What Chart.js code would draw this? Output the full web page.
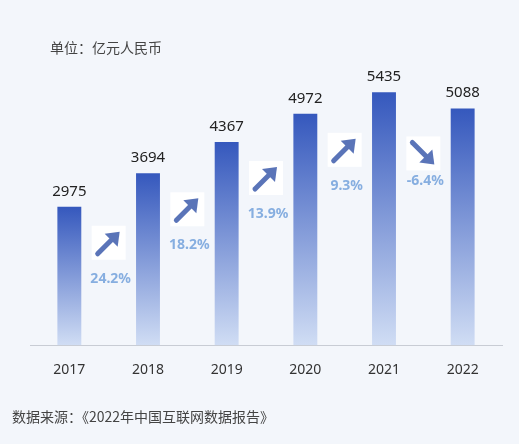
<!DOCTYPE html>
<html>
<head>
<meta charset="utf-8">
<script src="https://cdn.jsdelivr.net/npm/chart.js@4"></script>
<style>
body { margin: 0; background: #f3f6fb; font-family: "Noto Sans CJK SC", "Noto Sans", sans-serif; }
#wrap { position: relative; width: 519px; height: 444px; }
#unit { position: absolute; left: 50px; top: 37px; font-size: 14px; color: #444; }
#src { position: absolute; left: 12px; top: 406px; font-size: 14px; color: #444; }
</style>
</head>
<body>
<div id="wrap">
<canvas id="c" width="519" height="444"></canvas>
<div id="unit">单位：亿元人民币</div>
<div id="src">数据来源：《2022年中国互联网数据报告》</div>
</div>
<script>
const years = ["2017", "2018", "2019", "2020", "2021", "2022"];
const revenue = [2975, 3694, 4367, 4972, 5435, 5088];
const growth = ["24.2%", "18.2%", "13.9%", "9.3%", "-6.4%"];

const ctx = document.querySelector("#c");

const arrows = {
	id: "arrows",
	afterDatasetsDraw(chart) {
		const c = chart.ctx, xs = chart.scales.x, ys = chart.scales.y;
		c.save();
		growth.forEach((g, i) => {
			const x = (xs.getPixelForValue(i) + xs.getPixelForValue(i + 1)) / 2;
			const down = g.startsWith("-");
			let ay, ly;
			if (down) {
				ay = ys.getPixelForValue(revenue[i + 1]) + 45;
				ly = ay + 28;
			} else {
				ay = ys.getPixelForValue(revenue[i]) + 36;
				ly = ay + 36;
			}
			c.fillStyle = "#ffffff";
			c.fillRect(x - 17, ay - 17, 34, 34);
			c.fillStyle = "#5a74b8";
			c.strokeStyle = "#5a74b8";
			c.lineWidth = 5;
			c.lineCap = "round";
			c.beginPath();
			if (!down) {
				c.moveTo(x - 11, ay + 11);
				c.quadraticCurveTo(x - 2, ay + 2, x + 4, ay - 4);
				c.stroke();
				c.beginPath();
				c.moveTo(x + 11, ay - 11);
				c.lineTo(x + 9, ay + 4);
				c.lineTo(x - 4, ay - 9);
			} else {
				c.moveTo(x - 11, ay - 11);
				c.quadraticCurveTo(x - 2, ay - 2, x + 4, ay + 4);
				c.stroke();
				c.beginPath();
				c.moveTo(x + 11, ay + 11);
				c.lineTo(x + 9, ay - 4);
				c.lineTo(x - 4, ay + 9);
			}
			c.closePath();
			c.fill();
			c.fillStyle = "#86aee0";
			c.font = "bold 14px 'Noto Sans', sans-serif";
			c.textAlign = "center";
			c.textBaseline = "middle";
			c.fillText(g, x + 2, ly);
		});
		c.fillStyle = "#222";
		c.font = "15px 'Noto Sans', sans-serif";
		c.textBaseline = "bottom";
		c.textAlign = "center";
		revenue.forEach((v, i) => {
			c.fillText(v, xs.getPixelForValue(i), ys.getPixelForValue(v) - 8);
		});
		c.restore();
	}
};

new Chart(ctx, {
	type: "bar",
	data: {
		labels: years,
		datasets: [{
			data: revenue,
			backgroundColor: function (context) {
				const chart = context.chart;
				const area = chart.chartArea;
				if (!area || !chart.scales.y) return "#4466c4";
				const top = chart.scales.y.getPixelForValue(context.raw);
				const g = chart.ctx.createLinearGradient(0, top, 0, area.bottom);
				g.addColorStop(0, "#3558bd");
				g.addColorStop(1, "#d0ddf4");
				return g;
			},
			barPercentage: 0.38,
			categoryPercentage: 0.8
		}]
	},
	options: {
		responsive: false,
		animation: false,
		layout: { padding: { left: 30, right: 17, top: 66, bottom: 58 } },
		plugins: { legend: { display: false }, tooltip: { enabled: false } },
		scales: {
			x: {
				grid: { display: false },
				border: { color: "#c8ccd4" },
				ticks: { color: "#333", font: { size: 14, family: "'Noto Sans', sans-serif" }, padding: 8 }
			},
			y: { display: false, min: 0, max: 6000 }
		}
	},
	plugins: [arrows]
});
</script>
</body>
</html>
